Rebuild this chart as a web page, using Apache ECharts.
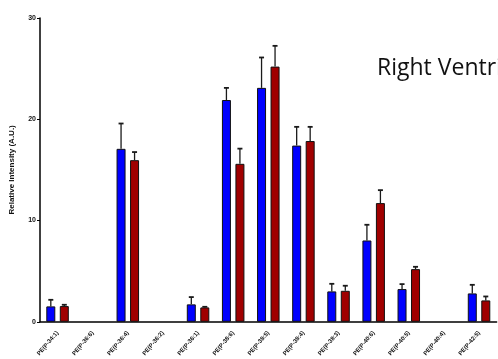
<!DOCTYPE html>
<html>
<head>
<meta charset="utf-8">
<script src="https://cdn.jsdelivr.net/npm/echarts@6/dist/echarts.min.js"></script>
<style>
html,body{margin:0;padding:0;background:#fff;}
#chart{width:498px;height:359px;}
</style>
</head>
<body>
<div id="chart"></div>
<script>
const categories = ['PE(P-34:1)','PE(P-36:6)','PE(P-36:4)','PE(P-36:2)','PE(P-36:1)','PE(P-38:6)','PE(P-38:5)','PE(P-38:4)','PE(P-38:3)','PE(P-40:6)','PE(P-40:5)','PE(P-40:4)','PE(P-42:5)'];
const groupA = [1.52, null, 17.08, null, 1.72, 21.9, 23.1, 17.4, 3.0, 8.03, 3.23, null, 2.8];
const errA   = [0.65, null, 2.5,  null, 0.72, 1.2,  3.0,  1.85, 0.75, 1.55, 0.49, null, 0.85];
const groupB = [1.55, null, 15.96, null, 1.42, 15.6, 25.2, 17.85, 3.06, 11.72, 5.2, null, 2.11];
const errB   = [0.13, null, 0.8,  null, 0.06, 1.5,  2.05, 1.4,  0.5,  1.28, 0.23, null, 0.39];
const yTicks = [0, 10, 20, 30];

const BAR_W = 9;
const GAP = 4.5;
const OFF = (BAR_W + GAP) / 2;

function errData(vals, errs) {
  const out = [];
  vals.forEach((v, i) => { if (v != null) out.push([i, v, errs[i]]); });
  return out;
}
function errRender(offset) {
  return function (params, api) {
    const i = api.value(0), v = api.value(1), e = api.value(2);
    const b = api.coord([i, v]);
    const t = api.coord([i, v + e]);
    const cx = b[0] + offset;
    return {
      type: 'group',
      children: [
        { type: 'line', shape: { x1: cx, y1: b[1], x2: cx, y2: t[1] }, style: { stroke: '#1a1a1a', lineWidth: 1.3 } },
        { type: 'line', shape: { x1: cx - 2.5, y1: t[1], x2: cx + 2.5, y2: t[1] }, style: { stroke: '#1a1a1a', lineWidth: 1.8 } }
      ]
    };
  };
}

const chart = echarts.init(document.getElementById('chart'), null, { renderer: 'canvas' });
chart.setOption({
  animation: false,
  grid: { left: 39.4, right: 1.4, top: 18, bottom: 37, containLabel: false },
  xAxis: {
    type: 'category',
    data: categories,
    axisLine: { lineStyle: { color: '#000', width: 1.5 } },
    axisTick: { alignWithLabel: true, length: 3, lineStyle: { color: '#000' } },
    axisLabel: { rotate: 50, fontSize: 6, fontWeight: 'bold', color: '#111', fontFamily: 'Liberation Sans, Arial', margin: 10, interval: 0 }
  },
  yAxis: {
    type: 'value', min: 0, max: 30, interval: 10,
    name: 'Relative Intensity (A.U.)', nameLocation: 'middle', nameGap: 24,
    nameTextStyle: { fontSize: 8, fontWeight: 'bold', color: '#111', fontFamily: 'Liberation Sans, Arial' },
    axisLine: { show: true, lineStyle: { color: '#000', width: 1.5 } },
    axisTick: { show: true, length: 3, lineStyle: { color: '#000' } },
    splitLine: { show: false },
    axisLabel: { fontSize: 7, fontWeight: 'bold', color: '#111', fontFamily: 'Liberation Sans, Arial', margin: 4,
      formatter: v => yTicks.includes(v) ? String(v) : '' }
  },
  series: [
    { name: 'Group A', type: 'bar', data: groupA, barWidth: BAR_W, barGap: (GAP / BAR_W * 100) + '%',
      itemStyle: { color: '#0000ff', borderColor: '#111', borderWidth: 1 } },
    { name: 'Group B', type: 'bar', data: groupB, barWidth: BAR_W,
      itemStyle: { color: '#a00000', borderColor: '#111', borderWidth: 1 } },
    { type: 'custom', renderItem: errRender(-OFF), data: errData(groupA, errA), z: 3 },
    { type: 'custom', renderItem: errRender(OFF), data: errData(groupB, errB), z: 3 }
  ],
  graphic: [
    { type: 'text', x: 377, y: 68, style: { text: 'Right Ventricle', fontSize: 23, fontFamily: 'Open Sans, sans-serif', fill: '#111', verticalAlign: 'middle' } }
  ]
});
</script>
</body>
</html>
